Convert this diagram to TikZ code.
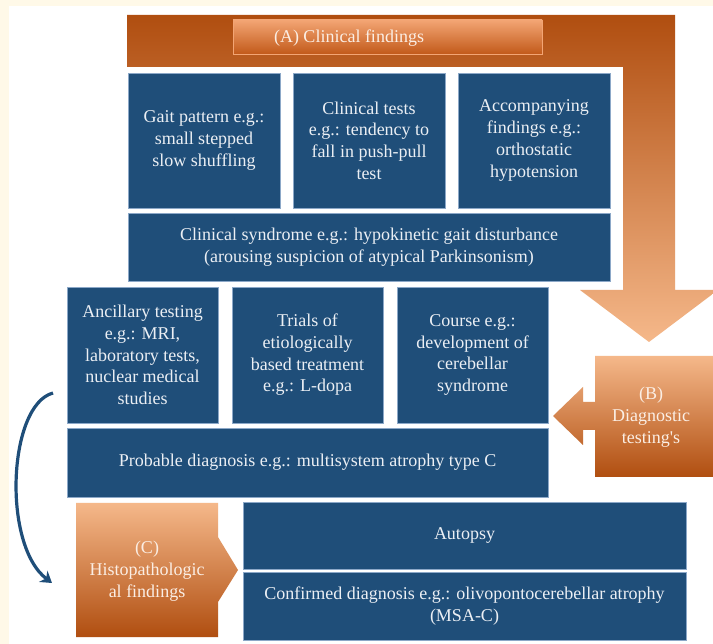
\documentclass[tikz,border=0pt]{standalone}
\usepackage{fontspec}
\setmainfont{Liberation Serif}
\usetikzlibrary{arrows.meta}
\definecolor{cream}{HTML}{FFF9E8}
\definecolor{bblue}{HTML}{1F4E79}
\definecolor{bedge}{HTML}{8CA8C8}
\definecolor{btext}{HTML}{EBEFF4}
\definecolor{otop}{HTML}{B04E10}
\definecolor{omid}{HTML}{E8823A}
\definecolor{obot}{HTML}{F5B88A}
\definecolor{ltop}{HTML}{F3A574}
\definecolor{lmid}{HTML}{EE8238}
\definecolor{lbot}{HTML}{C25A1A}
\definecolor{otext}{HTML}{FBEEE4}
\begin{document}
\begin{tikzpicture}[x=1pt,y=-1pt,
  bbox/.style={draw=bedge, line width=0.8pt, fill=bblue, text=btext, align=center,
    inner sep=0pt, font=\fontsize{18}{21.7}\selectfont},
  otxt/.style={text=otext, align=center, inner sep=0pt, font=\fontsize{18}{21.7}\selectfont},
  curvearrow/.style={draw=bblue, line width=3.2pt, -{Stealth[length=11pt,width=14pt]}}]
\useasboundingbox (0,0) rectangle (713,644);
\clip (0,0) rectangle (713,644);
\fill[cream] (0,0) rectangle (713,644);
\fill[white] (9,6) rectangle (713,644);

% (A) bent arrow
\shade[top color=otop, middle color=omid, bottom color=obot]
  (127,15) -- (675,15) -- (675,290) -- (718,290) -- (649,342) -- (580,290)
  -- (623,290) -- (623,67) -- (127,67) -- cycle;
\shade[top color=ltop, middle color=lmid, bottom color=lbot, draw=ltop, line width=0.5pt]
  (233,20) rectangle (542,54);
\node[otxt] (labA) at (349,38) {(A) Clinical findings};

% (B) arrow left
\shade[top color=obot, middle color=omid, bottom color=otop]
  (595,356) -- (718,356) -- (718,477) -- (595,477) -- (595,430) -- (583,430)
  -- (583,445) -- (553,416) -- (583,387) -- (583,402) -- (595,402) -- cycle;
\node[otxt] (labB) at (651,417) {(B)\\Diagnostic\\testing\textquotesingle s};

% (C) pentagon
\shade[top color=obot, middle color=omid, bottom color=otop]
  (76,503) -- (218,503) -- (218,537) -- (238,570) -- (218,602) -- (218,637)
  -- (76,637) -- cycle;
\node[otxt] (labC) at (147,571) {(C)\\Histopathologic\\al findings};

% row 1
\node[bbox, minimum width=152, minimum height=135] (gait) at (204,140.5)
  {Gait pattern e.g.:\\small stepped\\slow shuffling};
\node[bbox, minimum width=152, minimum height=135] (ctest) at (369,140.5)
  {Clinical tests\\e.g.: tendency to\\fall in push-pull\\test};
\node[bbox, minimum width=152, minimum height=135] (accomp) at (534,140.5)
  {Accompanying\\findings e.g.:\\orthostatic\\hypotension};
\node[bbox, minimum width=482, minimum height=68] (syndrome) at (369,247)
  {Clinical syndrome e.g.: hypokinetic gait disturbance\\(arousing suspicion of atypical Parkinsonism)};

% row 2
\node[bbox, minimum width=151, minimum height=136] (ancil) at (142.5,355)
  {Ancillary testing\\e.g.: MRI,\\laboratory tests,\\nuclear medical\\studies};
\node[bbox, minimum width=151, minimum height=136] (trials) at (307.5,355)
  {Trials of\\etiologically\\based treatment\\e.g.: L-dopa};
\node[bbox, minimum width=151, minimum height=136] (course) at (472.5,355)
  {Course e.g.:\\development of\\cerebellar\\syndrome};
\node[bbox, minimum width=481, minimum height=69] (probable) at (307.5,462.5)
  {Probable diagnosis e.g.: multisystem atrophy type C};

% row 3
\node[bbox, minimum width=443, minimum height=67] (autopsy) at (464.5,535.5)
  {Autopsy};
\node[bbox, minimum width=443, minimum height=68] (confirmed) at (464.5,606)
  {Confirmed diagnosis e.g.: olivopontocerebellar atrophy\\(MSA-C)};

% curved arrow
\coordinate (cstart) at (53,393);
\coordinate (cend) at (52,583);
\draw[curvearrow] (cstart) .. controls (8,405) and (2,545) .. (cend);
\end{tikzpicture}
\end{document}
